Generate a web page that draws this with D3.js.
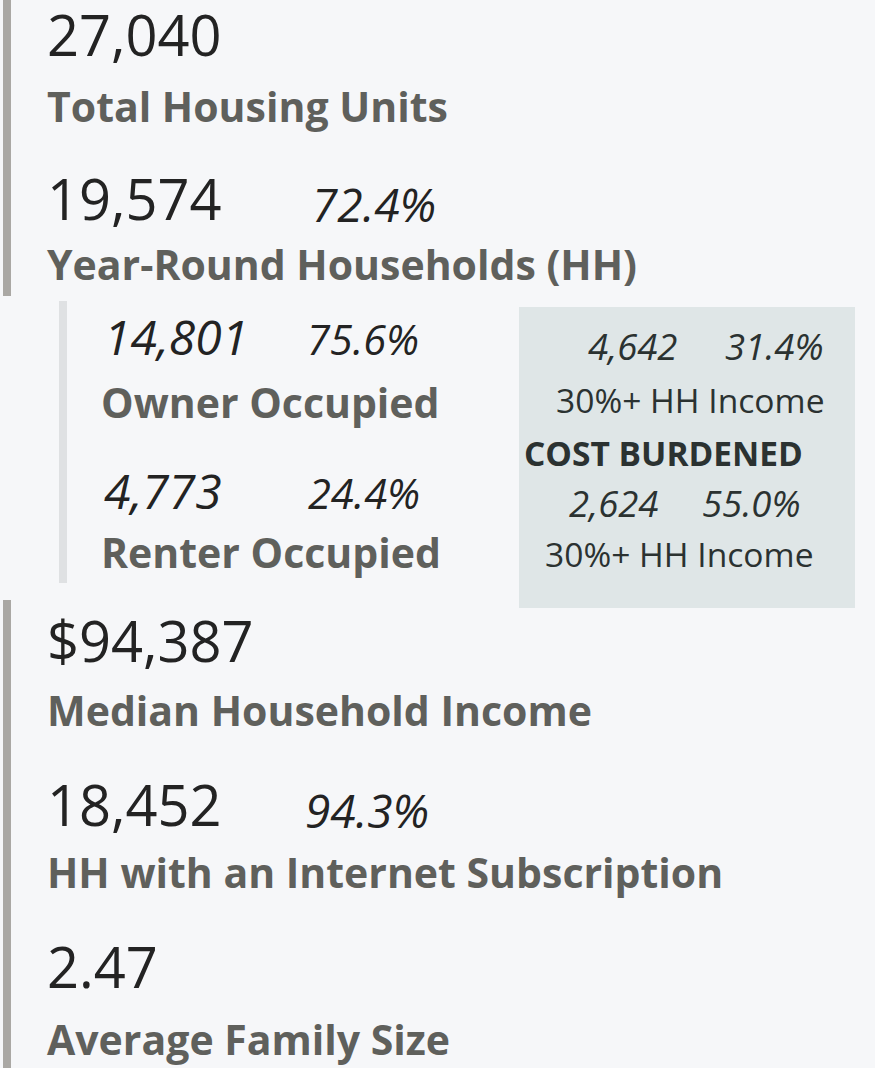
<!DOCTYPE html>
<html>
<head>
<meta charset="utf-8">
<script src="https://cdn.jsdelivr.net/npm/d3@7"></script>
<style>
  html, body { margin: 0; padding: 0; background: #f6f7f9; }
  svg { display: block; }
</style>
</head>
<body>
<div id="chart"></div>
<script>
// ---- data ----
const mainValues = ["27,040", "19,574", "$94,387", "18,452", "2.47"];
const mainShares = ["", "72.4%", "", "94.3%", ""];
const mainLabels = ["Total Housing Units", "Year-Round Households (HH)", "Median Household Income", "HH with an Internet Subscription", "Average Family Size"];
const tenureValues = ["14,801", "4,773"];
const tenureShares = ["75.6%", "24.4%"];
const tenureLabels = ["Owner Occupied", "Renter Occupied"];
const burdenValues = ["4,642", "2,624"];
const burdenShares = ["31.4%", "55.0%"];
const burdenLabel = "30%+ HH Income";
const burdenTitle = "COST BURDENED";

// ---- layout ----
const W = 875, H = 1068;
const FONT = "'Segoe UI', 'Open Sans', 'Noto Sans', sans-serif";
const mainValueY = [56, 220, 662, 826, 988];
const mainShareX = [0, 312, 0, 305, 0];
const mainLabelY = [122, 280, 726, 888, 1055];
const tenureValueY = [355, 509];
const tenureShareX = [307, 308];
const tenureLabelY = [418, 568];
const burdenRowY = [360, 517];
const burdenValueX = [588, 569];
const burdenShareX = [725, 702];
const burdenLabelY = [413, 567];
const burdenLabelX = [556, 545];

const svg = d3.select("#chart").append("svg").attr("width", W).attr("height", H);
svg.append("rect").attr("width", W).attr("height", H).attr("fill", "#f6f7f9");

// left accent bars
const bars = [[0, 296], [600, 1068]];
svg.selectAll("rect.acc").data(bars).join("rect").attr("class", "acc")
  .attr("x", 3).attr("width", 8)
  .attr("y", d => d[0]).attr("height", d => d[1] - d[0])
  .attr("fill", "#aaa8a4");
svg.append("rect").attr("x", 59).attr("width", 8).attr("y", 301).attr("height", 282).attr("fill", "#dfe1e3");

// cost-burdened box
svg.append("rect").attr("x", 519).attr("y", 307).attr("width", 336).attr("height", 301).attr("fill", "#dfe6e7");

// main KPIs
const g = svg.append("g").style("font-family", FONT);
g.selectAll("text.mv").data(mainValues).join("text").attr("class", "mv")
  .attr("x", 47).attr("y", (d, i) => mainValueY[i])
  .attr("font-size", 56).attr("fill", "#232323").text(d => d);
g.selectAll("text.ms").data(mainShares).join("text").attr("class", "ms")
  .attr("x", (d, i) => mainShareX[i]).attr("y", (d, i) => mainValueY[i] + 2)
  .attr("font-size", 46).attr("font-style", "italic").attr("fill", "#232323").text(d => d);
g.selectAll("text.ml").data(mainLabels).join("text").attr("class", "ml")
  .attr("x", 47).attr("y", (d, i) => mainLabelY[i])
  .attr("font-size", 41).attr("font-weight", "bold").attr("fill", "#5f605c").text(d => d);

// tenure
g.selectAll("text.tv").data(tenureValues).join("text").attr("class", "tv")
  .attr("x", 104).attr("y", (d, i) => tenureValueY[i])
  .attr("font-size", 48).attr("font-style", "italic").attr("fill", "#232323").text(d => d);
g.selectAll("text.ts").data(tenureShares).join("text").attr("class", "ts")
  .attr("x", (d, i) => tenureShareX[i]).attr("y", (d, i) => tenureValueY[i])
  .attr("font-size", 41.5).attr("font-style", "italic").attr("fill", "#232323").text(d => d);
g.selectAll("text.tl").data(tenureLabels).join("text").attr("class", "tl")
  .attr("x", 101).attr("y", (d, i) => tenureLabelY[i])
  .attr("font-size", 41).attr("font-weight", "bold").attr("fill", "#5f605c").text(d => d);

// burden box
g.selectAll("text.bv").data(burdenValues).join("text").attr("class", "bv")
  .attr("x", (d, i) => burdenValueX[i]).attr("y", (d, i) => burdenRowY[i])
  .attr("font-size", 36.5).attr("font-style", "italic").attr("fill", "#2b3231").text(d => d);
g.selectAll("text.bs").data(burdenShares).join("text").attr("class", "bs")
  .attr("x", (d, i) => burdenShareX[i]).attr("y", (d, i) => burdenRowY[i])
  .attr("font-size", 36.5).attr("font-style", "italic").attr("fill", "#2b3231").text(d => d);
g.selectAll("text.bl").data(burdenLabelY).join("text").attr("class", "bl")
  .attr("x", (d, i) => burdenLabelX[i]).attr("y", d => d)
  .attr("font-size", 33.6).attr("fill", "#2b3231").text(burdenLabel);
g.append("text").attr("x", 524).attr("y", 466)
  .attr("font-size", 33.5).attr("font-weight", "bold").attr("fill", "#2b3231").text(burdenTitle);
</script>
</body>
</html>
